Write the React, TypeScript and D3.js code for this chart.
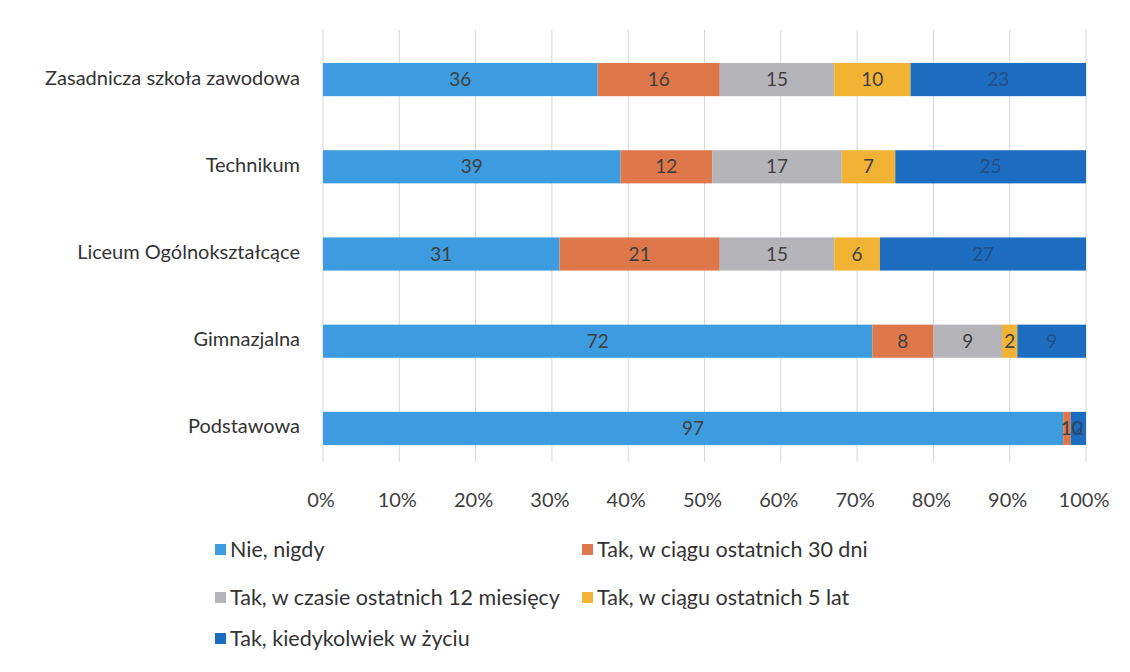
import React from "react";
import * as d3 from "d3";

const categories = [
  "Zasadnicza szkoła zawodowa",
  "Technikum",
  "Liceum Ogólnokształcące",
  "Gimnazjalna",
  "Podstawowa",
];
const seriesNames = [
  "Nie, nigdy",
  "Tak, w ciągu ostatnich 30 dni",
  "Tak, w czasie ostatnich 12 miesięcy",
  "Tak, w ciągu ostatnich 5 lat",
  "Tak, kiedykolwiek w życiu",
];
const nieNigdy = [36, 39, 31, 72, 97];
const tak30dni = [16, 12, 21, 8, 1];
const tak12mies = [15, 17, 15, 9, 0];
const tak5lat = [10, 7, 6, 2, 0];
const takKiedykolwiek = [23, 25, 27, 9, 2];
const seriesValues = [nieNigdy, tak30dni, tak12mies, tak5lat, takKiedykolwiek];
const colors = ["#3D9CDF", "#DE784B", "#B5B5B9", "#F2B233", "#1C6CC0"];
const ticks = [0, 10, 20, 30, 40, 50, 60, 70, 80, 90, 100];

const W = 1130;
const H = 672;
const FONT = "Lato, 'Open Sans', sans-serif";

export default function App() {
  const x = d3.scaleLinear().domain([0, 100]).range([323, 1086]);
  const y = d3
    .scaleBand<string>()
    .domain(categories)
    .range([36, 472])
    .paddingInner(0.62)
    .paddingOuter(0.31);

  const table = categories.map((c, i) => {
    const row: any = { cat: c };
    seriesNames.forEach((s, j) => (row[s] = seriesValues[j][i]));
    return row;
  });
  const stacked = d3.stack<any>().keys(seriesNames)(table);

  const legendPos = [
    [215, 549],
    [582, 549],
    [215, 597],
    [582, 597],
    [215, 638],
  ];

  const labels: any[] = [];
  stacked.forEach((layer, j) =>
    layer.forEach((d, i) => {
      const v = seriesValues[j][i];
      const a = x(d[0]);
      const b = x(d[1]);
      const cy = (y(categories[i]) as number) + y.bandwidth() / 2;
      if (b - a < 12) {
        // tiny segments (Podstawowa): Excel's labels sit squeezed together
        if (j === 1) labels.push({ key: `t${j}-${i}`, x: b + 1, y: cy, anchor: "end", v, j });
        else if (j === 2) labels.push({ key: `t${j}-${i}`, x: a + 1, y: cy, anchor: "start", v, j });
        return;
      }
      labels.push({ key: `t${j}-${i}`, x: (a + b) / 2, y: cy, anchor: "middle", v, j });
    })
  );

  return (
    <svg width={W} height={H} style={{ position: "absolute", left: 0, top: 0, background: "#fff" }}>
      <rect width={W} height={H} fill="#fff" />
      {ticks.map((t) => (
        <line key={t} x1={x(t)} x2={x(t)} y1={30} y2={462} stroke="#D6D6DE" strokeWidth={1} />
      ))}
      {stacked.map((layer, j) =>
        layer.map((d, i) => {
          const x0 = x(d[0]);
          const x1 = x(d[1]);
          return (
            <rect
              key={`${j}-${i}`}
              x={x0}
              y={y(categories[i])}
              width={Math.max(0, x1 - x0)}
              height={y.bandwidth()}
              fill={colors[j]}
            />
          );
        })
      )}
      {labels.map((l) => (
        <text
          key={l.key}
          x={l.x}
          y={l.y}
          dy="0.35em"
          textAnchor={l.anchor}
          fontFamily={FONT}
          fontSize={19}
          fill={l.j === 4 ? "#234F86" : "#404040"}
        >
          {l.v}
        </text>
      ))}
      {categories.map((c) => (
        <text
          key={c}
          x={300}
          y={(y(c) as number) + y.bandwidth() / 2 - 2}
          dy="0.35em"
          textAnchor="end"
          fontFamily={FONT}
          fontSize={20}
          fill="#333"
        >
          {c}
        </text>
      ))}
      {ticks.map((t) => (
        <text
          key={`l${t}`}
          x={x(t) - 2}
          y={500}
          dy="0.35em"
          textAnchor="middle"
          fontFamily={FONT}
          fontSize={20}
          fill="#404040"
        >
          {t + "%"}
        </text>
      ))}
      {seriesNames.map((s, j) => (
        <g key={s} transform={`translate(${legendPos[j][0]},${legendPos[j][1]})`}>
          <rect x={0} y={-5} width={11} height={11} fill={colors[j]} />
          <text x={15} y={0} dy="0.35em" fontFamily={FONT} fontSize={21.5} fill="#333">
            {s}
          </text>
        </g>
      ))}
    </svg>
  );
}
